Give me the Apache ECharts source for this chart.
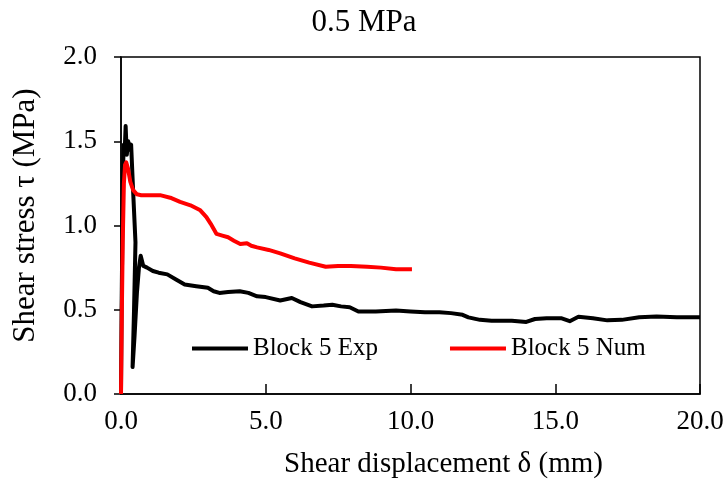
<!DOCTYPE html>
<html>
<head>
<meta charset="utf-8">
<script src="https://cdn.jsdelivr.net/npm/echarts@6/dist/echarts.min.js"></script>
<style>
html,body{margin:0;padding:0;background:#fff;}
#chart{width:728px;height:491px;}
</style>
</head>
<body>
<div id="chart"></div>
<script>
var titleText = '0.5 MPa';
var xName = 'Shear displacement δ (mm)';
var yName = 'Shear stress τ (MPa)';
var seriesNames = ['Block 5 Exp', 'Block 5 Num'];

// Block 5 Exp: displacement (mm)
var expX = [0, 0.02, 0.05, 0.08, 0.10, 0.13, 0.16, 0.20, 0.25, 0.30, 0.35, 0.42, 0.50, 0.45, 0.40, 0.47, 0.55, 0.62, 0.68, 0.77,
  0.9, 1.1, 1.3, 1.6, 1.9, 2.2, 2.6, 3.0, 3.2, 3.4, 3.7, 4.1, 4.4, 4.7, 5.0, 5.5, 5.9, 6.2, 6.6, 7.0, 7.3, 7.6, 7.9, 8.2, 8.8, 9.5,
  10.0, 10.5, 11.0, 11.4, 11.8, 12.0, 12.4, 12.8, 13.5, 14.0, 14.3, 14.7, 15.2, 15.5, 15.8, 16.3, 16.8, 17.3, 17.9, 18.5, 19.2, 20.0];
// Block 5 Exp: shear stress (MPa)
var expY = [0, 0.5, 1.0, 1.4, 1.48, 1.45, 1.59, 1.42, 1.50, 1.45, 1.48, 1.2, 0.9, 0.5, 0.16, 0.35, 0.6, 0.75, 0.82, 0.76,
  0.75, 0.73, 0.72, 0.71, 0.68, 0.65, 0.64, 0.63, 0.61, 0.60, 0.605, 0.61, 0.60, 0.58, 0.575, 0.555, 0.57, 0.545, 0.52, 0.525, 0.53, 0.52, 0.515, 0.49, 0.49, 0.495,
  0.49, 0.485, 0.485, 0.48, 0.47, 0.455, 0.44, 0.435, 0.435, 0.428, 0.445, 0.45, 0.45, 0.432, 0.458, 0.45, 0.437, 0.44, 0.455, 0.46, 0.455, 0.455];

// Block 5 Num: displacement (mm)
var numX = [0, 0.03, 0.06, 0.10, 0.14, 0.18, 0.24, 0.32, 0.42, 0.55, 0.7, 1.0, 1.35, 1.7, 2.04, 2.4, 2.74, 2.95, 3.1, 3.3, 3.5, 3.7, 3.9,
  4.12, 4.35, 4.5, 4.7, 5.1, 5.5, 6.0, 6.5, 7.07, 7.5, 7.94, 8.5, 8.98, 9.5, 10.05];
// Block 5 Num: shear stress (MPa)
var numY = [0, 0.5, 0.9, 1.25, 1.36, 1.375, 1.34, 1.26, 1.21, 1.185, 1.18, 1.18, 1.18, 1.165, 1.14, 1.12, 1.09, 1.05, 1.01, 0.95, 0.94, 0.93, 0.91,
  0.89, 0.895, 0.88, 0.87, 0.855, 0.835, 0.805, 0.78, 0.755, 0.76, 0.76, 0.755, 0.75, 0.74, 0.74];

function pairs(xs, ys){ return xs.map(function(x,i){ return [x, ys[i]]; }); }

var font = 'Liberation Serif';
var chart = echarts.init(document.getElementById('chart'), null, {renderer:'canvas'});
chart.setOption({
  animation: false,
  backgroundColor: '#fff',
  title: {
    text: titleText, left: 'center', top: 2,
    textStyle: {fontFamily: font, fontSize: 31, fontWeight: 'normal', color: '#000'}
  },
  legend: {
    data: [{name: seriesNames[0], icon: 'rect'}, {name: seriesNames[1], icon: 'rect'}],
    left: 187, top: 331, itemWidth: 56, itemHeight: 4, itemGap: 72,
    textStyle: {fontFamily: font, fontSize: 25, color: '#000'}
  },
  grid: {left: 121, right: 28, top: 57, bottom: 97, show: true, borderColor: '#000', borderWidth: 1.5},
  xAxis: {
    type: 'value', min: 0, max: 20, interval: 5,
    name: xName, nameLocation: 'middle', nameGap: 56,
    nameTextStyle: {fontFamily: font, fontSize: 29, color: '#000', padding: [0,0,0,66]},
    axisLine: {lineStyle: {color: '#000', width: 1.5}},
    axisTick: {inside: true, length: 10, lineStyle: {color: '#000', width: 1.5}},
    axisLabel: {fontFamily: font, fontSize: 27, color: '#000', margin: 14, formatter: function(v){return v.toFixed(1);}},
    splitLine: {show: false}
  },
  yAxis: {
    type: 'value', min: 0, max: 2, interval: 0.5,
    name: yName, nameLocation: 'middle', nameGap: 80,
    nameTextStyle: {fontFamily: font, fontSize: 31, color: '#000', padding: [0,0,0,20]},
    axisLine: {lineStyle: {color: '#000', width: 1.5}},
    axisTick: {inside: false, length: 7, lineStyle: {color: '#000', width: 1.5}},
    axisLabel: {fontFamily: font, fontSize: 27, color: '#000', margin: 24, formatter: function(v){return v.toFixed(1);}},
    splitLine: {show: false}
  },
  series: [
    {name: seriesNames[0], type: 'line', data: pairs(expX, expY), symbol: 'none', lineStyle: {color: '#000', width: 4, join: 'round'}, itemStyle: {color: '#000'}, z: 2},
    {name: seriesNames[1], type: 'line', data: pairs(numX, numY), symbol: 'none', lineStyle: {color: '#ff0000', width: 4, join: 'round'}, itemStyle: {color: '#ff0000'}, z: 3}
  ]
});
</script>
</body>
</html>
